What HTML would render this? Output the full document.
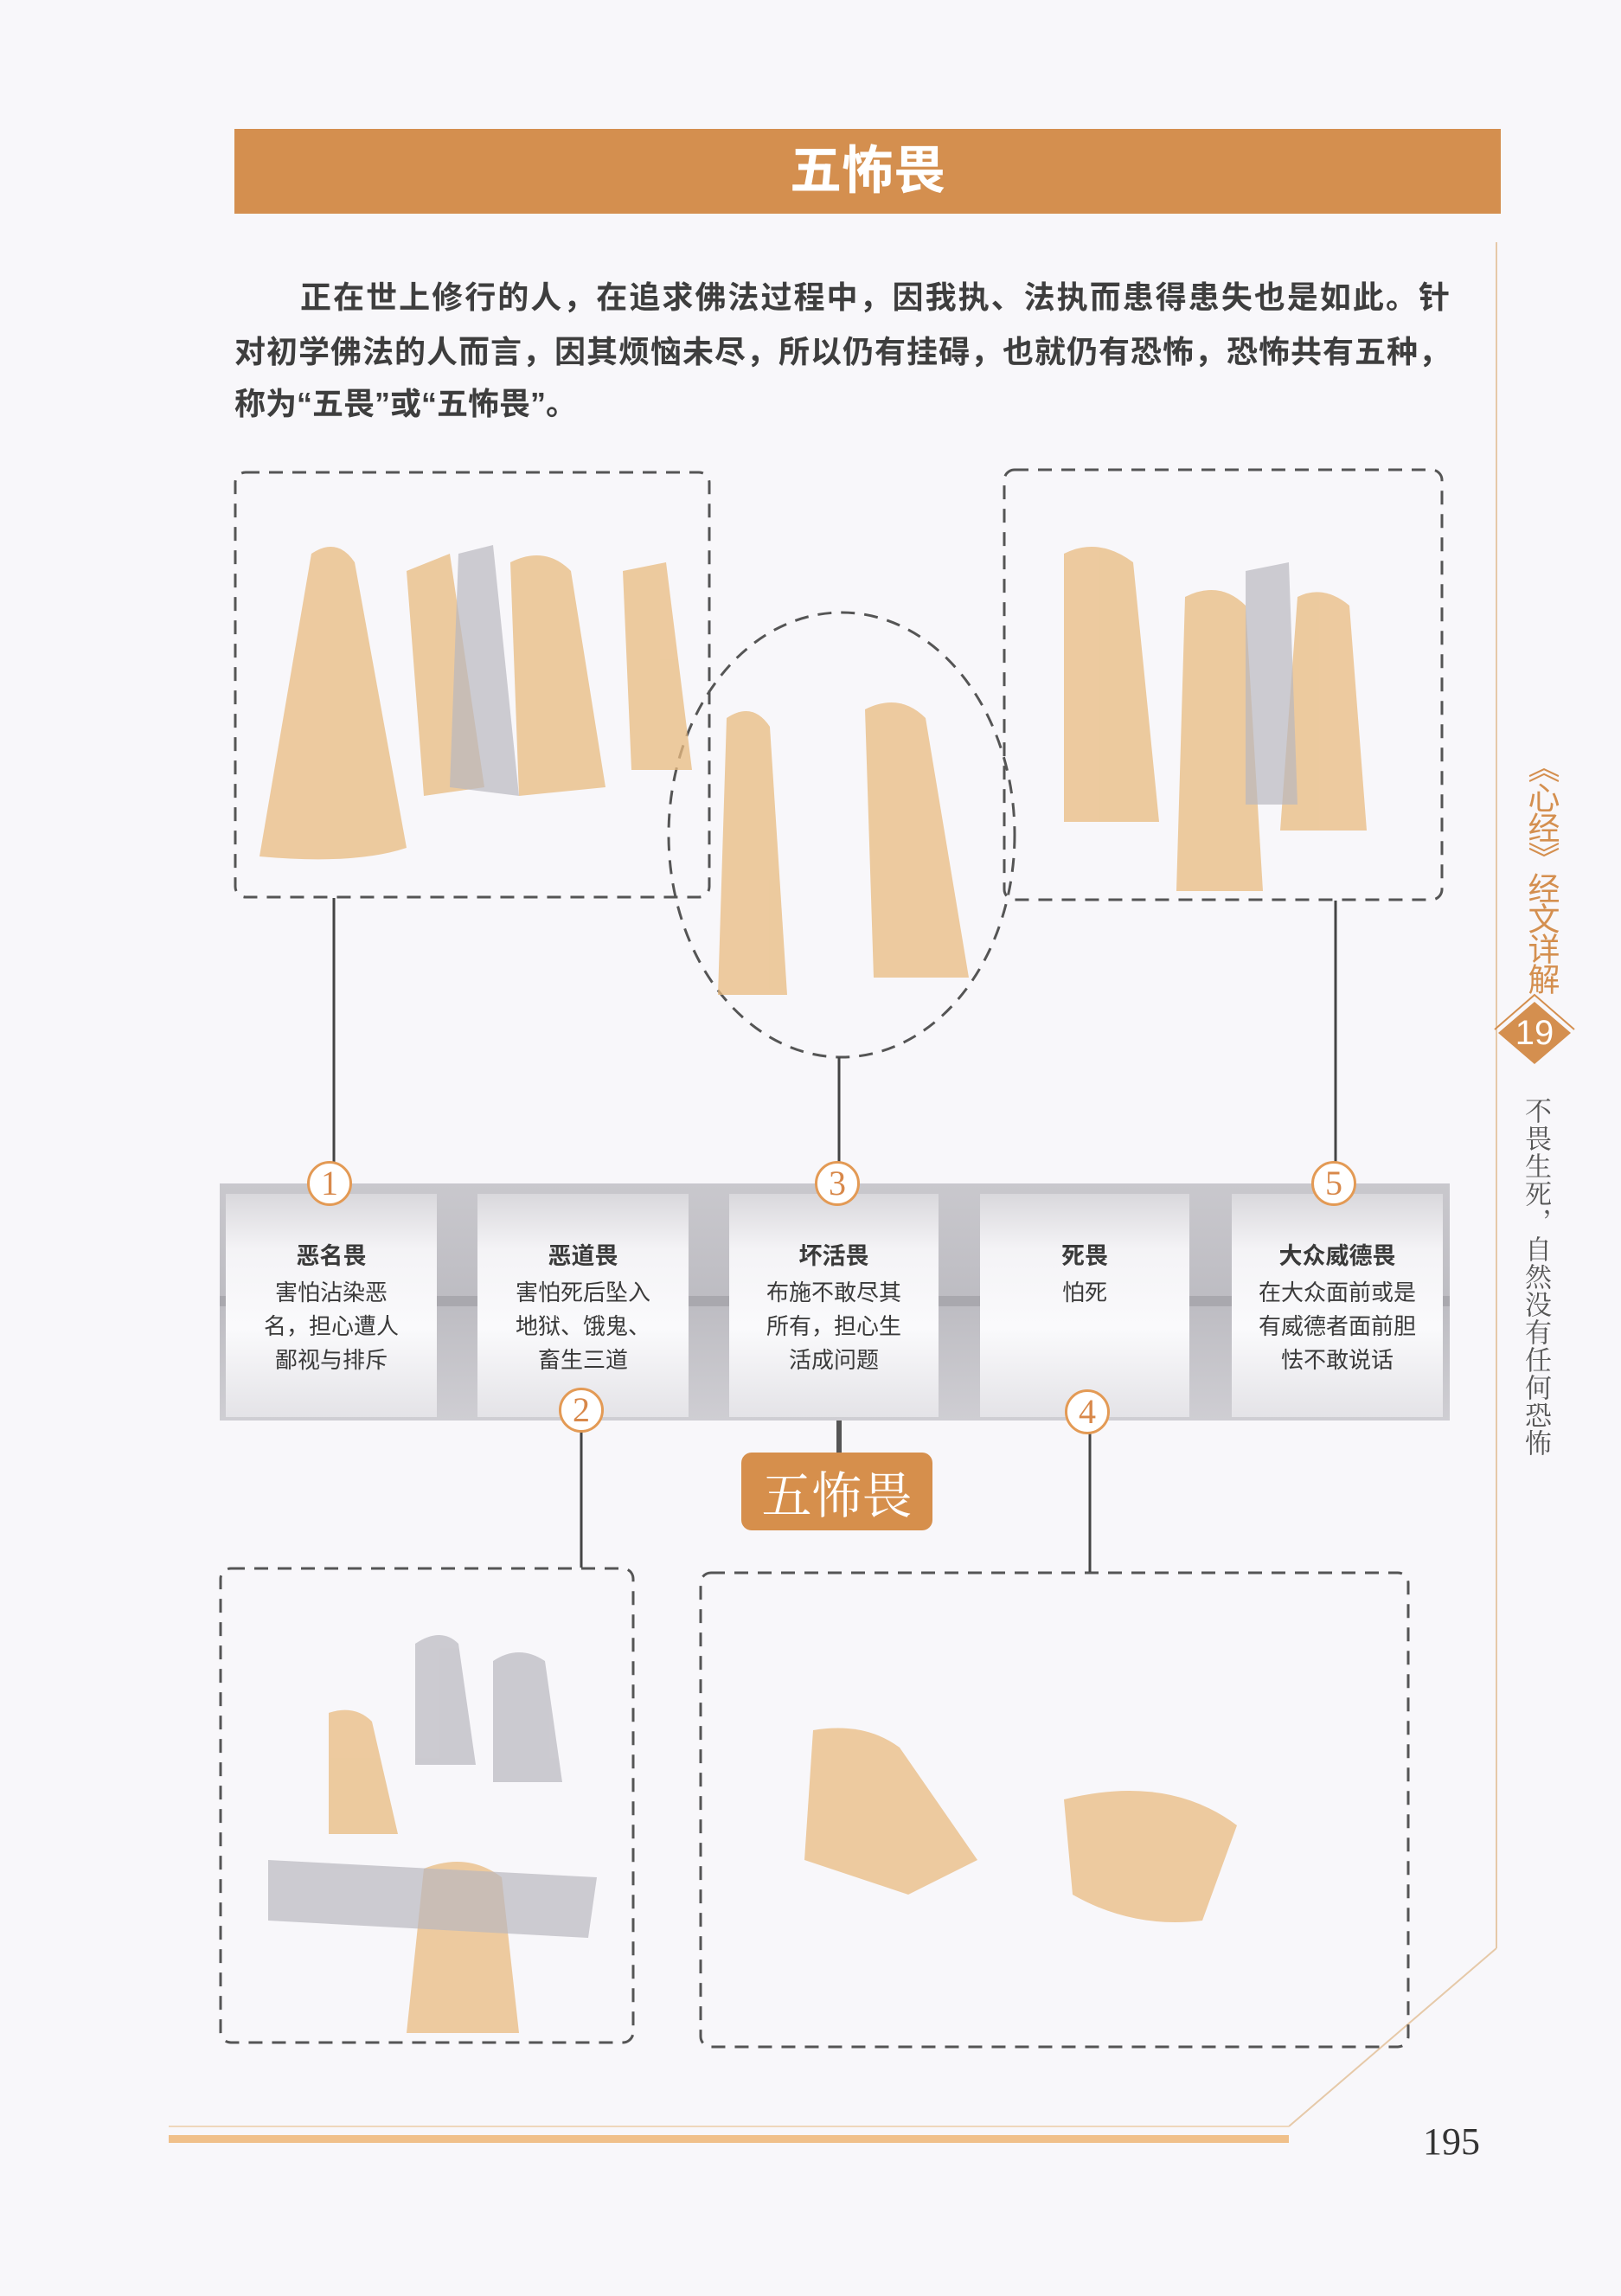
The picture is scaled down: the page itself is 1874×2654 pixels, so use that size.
<!DOCTYPE html>
<html><head><meta charset="utf-8">
<style>
body{margin:0;width:1874px;height:2654px;background:#f8f7fa;position:relative;overflow:hidden;font-family:"Liberation Sans","Noto Sans CJK SC",sans-serif;}
.a{position:absolute;}
.p{position:absolute;left:271px;width:1405px;font-size:36px;color:#3e3e3e;font-weight:bold;text-align:justify;text-align-last:justify;white-space:nowrap;}
.card{position:absolute;top:1380px;height:258px;background:linear-gradient(#d9d8dc,#f4f3f6 25%,#fafafc 60%,#e4e3e7);text-align:center;color:#3a3a3a;font-size:26px;line-height:39px;}
.card b{display:block;margin-top:50px;font-size:27px;line-height:45px;}
.num{position:absolute;width:46px;height:46px;border:3px solid #e39a55;border-radius:50%;background:#fff;color:#d8884a;font-family:"Liberation Serif",serif;font-size:40px;line-height:46px;text-align:center;box-sizing:content-box;margin:-26px 0 0 -26px;}
.side{position:absolute;writing-mode:vertical-rl;}
</style></head><body>
<div class="a" style="left:271px;top:149px;width:1464px;height:98px;background:#d48f4f;"></div>
<div class="a" style="left:271px;top:149px;width:1464px;height:98px;color:#fff;font-size:60px;font-weight:bold;text-align:center;line-height:98px;">五怖畏</div>

<div class="p" style="top:315px;">　　正在世上修行的人，在追求佛法过程中，因我执、法执而患得患失也是如此。针</div>
<div class="p" style="top:378px;">对初学佛法的人而言，因其烦恼未尽，所以仍有挂碍，也就仍有恐怖，恐怖共有五种，</div>
<div class="p" style="top:438px;text-align-last:left;">称为“五畏”或“五怖畏”。</div>

<svg class="a" style="left:0;top:0" width="1874" height="2654">
<line x1="1730" y1="280" x2="1730" y2="2252" stroke="#e6c9a8" stroke-width="2"/>
<line x1="1730" y1="2252" x2="1490" y2="2458" stroke="#e6c9a8" stroke-width="2"/>
<line x1="195" y1="2458" x2="1490" y2="2458" stroke="#efd7bb" stroke-width="2"/>
<rect x="195" y="2468" width="1295" height="9" fill="#f0c08a"/>
<g fill="none" stroke="#555" stroke-width="3" stroke-dasharray="16 11">
<ellipse cx="973" cy="965" rx="200" ry="257"/>
<rect x="272" y="546" width="548" height="491" rx="12"/>
<rect x="1161" y="543" width="506" height="497" rx="12"/>
<rect x="255" y="1813" width="477" height="548" rx="12"/>
<rect x="810" y="1818" width="818" height="548" rx="12"/>
</g>
<polygon points="1732,1194 1774,1158 1816,1194 1774,1230" fill="#d48f4f"/>
<polyline points="1728,1190 1774,1150 1820,1190" fill="none" stroke="#d48f4f" stroke-width="2"/>
<g fill="#e9bb80" opacity="0.75">
<path d="M360 640 q30 -20 50 10 l60 330 q-60 20 -170 10 z"/>
<path d="M470 660 l50 -20 l40 270 l-70 10 z"/>
<path d="M590 650 q40 -20 70 10 l40 250 l-100 10z"/>
<path d="M720 660 l50 -10 l30 240 l-70 0z"/>
<path d="M1230 640 q40 -20 80 10 l30 300 l-110 0z"/>
<path d="M1370 690 q40 -20 70 10 l20 330 l-100 0z"/>
<path d="M1500 690 q30 -15 60 10 l20 260 l-100 0z"/>
<path d="M840 830 q30 -20 50 10 l20 310 l-80 0z"/>
<path d="M1000 820 q40 -20 70 10 l50 300 l-110 0z"/>
<path d="M380 1980 q30 -10 50 10 l30 130 l-80 0z"/>
<path d="M490 2160 q50 -20 90 10 l20 180 l-130 0z"/>
<path d="M940 2000 q60 -10 100 20 l90 130 l-80 40 l-120 -40z"/>
<path d="M1230 2080 q120 -30 200 30 l-40 110 q-80 10 -150 -30z"/>
</g>
<g fill="#b9b8bf" opacity="0.7">
<path d="M530 640 l40 -10 l30 290 l-80 -10z"/>
<path d="M1440 660 l50 -10 l10 280 l-60 0z"/>
<path d="M480 1900 q30 -20 50 0 l20 140 l-70 0z"/>
<path d="M570 1920 q30 -20 60 0 l20 140 l-80 0z"/>
<path d="M310 2150 l380 20 l-10 70 l-370 -20z"/>
</g>
<line x1="386" y1="1038" x2="386" y2="1346" stroke="#444" stroke-width="3"/>
<line x1="970" y1="1222" x2="970" y2="1346" stroke="#444" stroke-width="3"/>
<line x1="1544" y1="1041" x2="1544" y2="1346" stroke="#444" stroke-width="3"/>
<line x1="672" y1="1655" x2="672" y2="1812" stroke="#444" stroke-width="3"/>
<line x1="1260" y1="1655" x2="1260" y2="1817" stroke="#444" stroke-width="3"/>
<line x1="970" y1="1640" x2="970" y2="1680" stroke="#555" stroke-width="6"/>
</svg>

<div class="a" style="left:254px;top:1368px;width:1422px;height:274px;background:linear-gradient(#c9c8cd,#bdbcc2 50%,#cfced3);"></div>
<div class="a" style="left:254px;top:1498px;width:1422px;height:12px;background:#a9a8ae;"></div>
<div class="card" style="left:261px;width:244px;"><b>恶名畏</b>害怕沾染恶<br>名，担心遭人<br>鄙视与排斥</div>
<div class="card" style="left:552px;width:244px;"><b>恶道畏</b>害怕死后坠入<br>地狱、饿鬼、<br>畜生三道</div>
<div class="card" style="left:843px;width:242px;"><b>坏活畏</b>布施不敢尽其<br>所有，担心生<br>活成问题</div>
<div class="card" style="left:1133px;width:242px;"><b>死畏</b>怕死</div>
<div class="card" style="left:1424px;width:244px;"><b>大众威德畏</b>在大众面前或是<br>有威德者面前胆<br>怯不敢说话</div>

<div class="num" style="left:381px;top:1368px;">1</div>
<div class="num" style="left:968px;top:1368px;">3</div>
<div class="num" style="left:1542px;top:1368px;">5</div>
<div class="num" style="left:672px;top:1630px;">2</div>
<div class="num" style="left:1257px;top:1632px;">4</div>

<div class="a" style="left:857px;top:1679px;width:221px;height:90px;background:#d68f4c;border-radius:12px;color:#fff;font-family:'Noto Serif CJK SC',serif;font-size:58px;line-height:90px;text-align:center;">五怖畏</div>

<div class="side" style="left:1754px;top:868px;font-size:37px;color:#d48f4f;letter-spacing:-2px;">《心经》经文详解</div>
<div class="a" style="left:1732px;top:1170px;width:84px;text-align:center;color:#fff;font-size:40px;line-height:48px;">19</div>
<div class="side" style="left:1756px;top:1268px;font-size:31px;color:#555;font-family:'Noto Serif CJK SC',serif;letter-spacing:1px;">不畏生死，自然没有任何恐怖</div>

<div class="a" style="left:1645px;top:2450px;font-family:'Liberation Serif',serif;font-size:44px;color:#333;">195</div>
</body></html>
